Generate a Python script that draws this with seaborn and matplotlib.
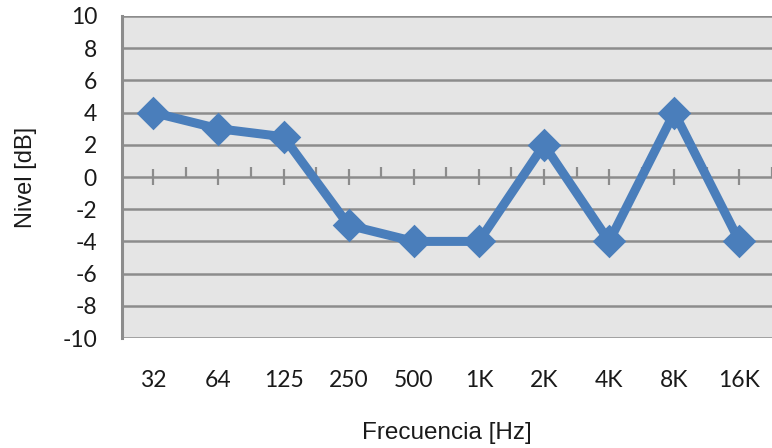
import matplotlib
matplotlib.use("Agg")
import matplotlib.pyplot as plt
import numpy as np
import pandas as pd
import seaborn as sns
from matplotlib.ticker import MultipleLocator, FixedLocator

# Band centre frequencies and measured levels
frequencies = ["32", "64", "125", "250", "500", "1K", "2K", "4K", "8K", "16K"]
levels_db = [4, 3, 2.5, -3, -4, -4, 2, -4, 4, -4]
y_ticks = [-10, -8, -6, -4, -2, 0, 2, 4, 6, 8, 10]

df = pd.DataFrame({"freq": frequencies, "level": levels_db})

sns.set_style("white")
plt.rcParams["font.family"] = ["Lato", "DejaVu Sans"]
plt.rcParams["axes.unicode_minus"] = False

line_color = "#4A7EBB"
grid_color = "#8C8C8C"
text_color = "#1a1a1a"

fig = plt.figure(figsize=(7.72, 4.48), dpi=100)
ax = fig.add_axes([122 / 772, 110 / 448, 650 / 772, 322 / 448])
ax.set_facecolor("#E5E5E5")

sns.pointplot(data=df, x="freq", y="level", order=frequencies, color=line_color,
              markers="D", markersize=12.5, linewidth=6.5, ax=ax, zorder=5)

ax.set_xlim(-0.48, len(frequencies) - 0.5)
ax.set_ylim(-10, 10)

# horizontal gridlines
ax.set_yticks(y_ticks)
ax.yaxis.set_minor_locator(MultipleLocator(0.4))
ax.grid(axis="y", which="major", color=grid_color, linewidth=1.8)
ax.grid(axis="x", visible=False)
ax.set_axisbelow(True)

for side in ["top", "right", "bottom"]:
    ax.spines[side].set_visible(False)
ax.spines["left"].set_color(grid_color)
ax.spines["left"].set_linewidth(2.2)

ax.tick_params(axis="y", which="major", direction="out", length=8, width=1.8,
               color=grid_color, labelsize=16.5, pad=10, labelcolor=text_color)
ax.tick_params(axis="y", which="minor", direction="in", length=4, width=1.5,
               color=grid_color)
ax.tick_params(axis="x", which="both", length=0, labelsize=16.5, pad=23,
               labelcolor=text_color)

# category axis drawn through y = 0
zero_axis = ax.secondary_xaxis(0.5)
zero_axis.set_xticks(range(len(frequencies)))
zero_axis.xaxis.set_minor_locator(FixedLocator(np.arange(len(frequencies)) + 0.5))
zero_axis.tick_params(which="major", direction="inout", length=12, width=1.6,
                      color=grid_color, labelbottom=False, labeltop=False)
zero_axis.tick_params(which="minor", direction="out", length=7, width=1.6,
                      color=grid_color)
zero_axis.set_xticklabels([])
zero_axis.spines["bottom"].set_color(grid_color)
zero_axis.spines["bottom"].set_linewidth(1.8)
for side in ["top", "left", "right"]:
    zero_axis.spines[side].set_visible(False)

ax.set_xlabel("Frecuencia [Hz]", fontsize=17.5, family=["Liberation Sans", "DejaVu Sans"],
              labelpad=22, color=text_color)
ax.set_ylabel("Nivel [dB]", fontsize=17, family=["Liberation Sans", "DejaVu Sans"],
              labelpad=18, color=text_color)

fig.savefig("out.png", dpi=100)
